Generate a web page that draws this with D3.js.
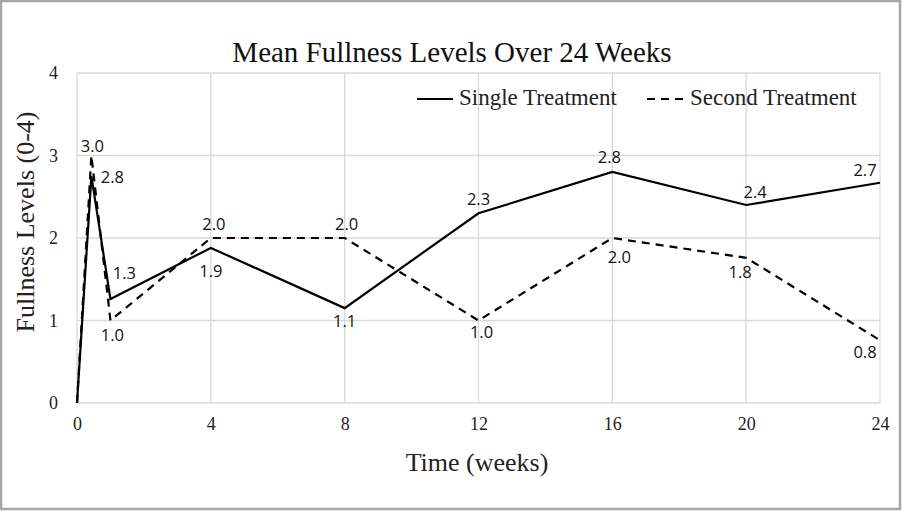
<!DOCTYPE html>
<html><head><meta charset="utf-8">
<script src="https://cdn.jsdelivr.net/npm/d3@7"></script>
<style>body{margin:0;background:#fff}svg{display:block}</style>
</head><body>
<svg id="c" width="902" height="511"></svg>
<script>
const weeks = [0, 0.43, 1, 4, 8, 12, 16, 20, 24];
const singleTreatment = [0, 2.75, 1.26, 1.88, 1.15, 2.3, 2.8, 2.4, 2.67];
const secondTreatment = [0, 3.0, 1.0, 2.0, 2.0, 1.0, 2.0, 1.76, 0.76];
const singleLabels = [null, "2.8", "1.3", "1.9", "1.1", "2.3", "2.8", "2.4", "2.7"];
const secondLabels = [null, "3.0", "1.0", "2.0", "2.0", "1.0", "2.0", "1.8", "0.8"];
const xTicks = [0, 4, 8, 12, 16, 20, 24];
const yTicks = [0, 1, 2, 3, 4];

const svg = d3.select("#c");
const W = 902, H = 511;
svg.append("rect").attr("x", 1).attr("y", 1).attr("width", W - 3).attr("height", H - 3)
  .attr("fill", "#fff").attr("stroke", "#a6a6a6").attr("stroke-width", 2.5);

const x = d3.scaleLinear().domain([0, 24]).range([77, 880]);
const y = d3.scaleLinear().domain([0, 4]).range([403, 73]);
const serif = "'Liberation Serif', 'Times New Roman', serif";
const sans = "'Open Sans', 'Noto Sans', sans-serif";

// gridlines
svg.append("g").selectAll("line").data(yTicks).join("line")
  .attr("x1", x(0)).attr("x2", x(24)).attr("y1", d => y(d)).attr("y2", d => y(d))
  .attr("stroke", "#d9d9d9").attr("stroke-width", 1.3);
svg.append("g").selectAll("line").data(xTicks).join("line")
  .attr("y1", y(0)).attr("y2", y(4)).attr("x1", d => x(d)).attr("x2", d => x(d))
  .attr("stroke", "#d9d9d9").attr("stroke-width", 1.3);

// axes
const xAxis = svg.append("g").attr("transform", `translate(0,${y(0)})`)
  .call(d3.axisBottom(x).tickValues(xTicks).tickFormat(d3.format("d")).tickSize(0).tickPadding(14));
xAxis.select(".domain").remove();
xAxis.selectAll("text").attr("font-family", serif).attr("font-size", 18).attr("fill", "#222");
const yAxis = svg.append("g").attr("transform", `translate(${x(0)},0)`)
  .call(d3.axisLeft(y).tickValues(yTicks).tickFormat(d3.format("d")).tickSize(0).tickPadding(19));
yAxis.select(".domain").remove();
yAxis.selectAll("text").attr("font-family", serif).attr("font-size", 18).attr("fill", "#222");

// title & axis titles
svg.append("text").attr("x", 452).attr("y", 62).attr("text-anchor", "middle")
  .attr("font-family", serif).attr("font-size", 29).attr("fill", "#111")
  .text("Mean Fullness Levels Over 24 Weeks");
svg.append("text").attr("x", 477).attr("y", 471).attr("text-anchor", "middle")
  .attr("font-family", serif).attr("font-size", 26).attr("fill", "#222").text("Time (weeks)");
svg.append("text").attr("transform", "translate(34,222) rotate(-90)").attr("text-anchor", "middle")
  .attr("font-family", serif).attr("font-size", 26).attr("fill", "#222").text("Fullness Levels (0-4)");

// lines
const line = d3.line().x(d => x(d[0])).y(d => y(d[1]));
const sData = weeks.map((w, i) => [w, singleTreatment[i]]);
const dData = weeks.map((w, i) => [w, secondTreatment[i]]);
svg.append("path").datum(dData).attr("d", line).attr("fill", "none")
  .attr("stroke", "#000").attr("stroke-width", 2.2).attr("stroke-dasharray", "8,6");
svg.append("path").datum(sData).attr("d", line).attr("fill", "none")
  .attr("stroke", "#000").attr("stroke-width", 2.2);

// data label placement (offsets from point: dx to label centre, dy to baseline)
const singleOff = [null, [21, 7], [14, -20], [0, 29], [0, 19], [0, -8], [-3, -9], [9, -7], [-15, -7]];
const secondOff = [null, [1, -4], [2, 20], [3, -8], [2, -8], [3, 17], [7, 25], [-6, 20], [-15, 18]];
function labels(data, labs, offs) {
  svg.append("g").selectAll("text")
    .data(data.map((d, i) => ({d, l: labs[i], o: offs[i]})).filter(o => o.l))
    .join("text")
    .attr("x", o => x(o.d[0]) + o.o[0])
    .attr("y", o => y(o.d[1]) + o.o[1])
    .attr("text-anchor", "middle")
    .attr("font-family", sans).attr("font-size", 16.5).attr("fill", "#111")
    .text(o => o.l);
}
labels(sData, singleLabels, singleOff);
labels(dData, secondLabels, secondOff);

// legend
const lg = svg.append("g");
lg.append("line").attr("x1", 417).attr("x2", 453).attr("y1", 99).attr("y2", 99)
  .attr("stroke", "#000").attr("stroke-width", 2.2);
lg.append("text").attr("x", 459).attr("y", 105).attr("font-family", serif).attr("font-size", 23)
  .attr("fill", "#222").text("Single Treatment");
lg.append("line").attr("x1", 647).attr("x2", 688).attr("y1", 99).attr("y2", 99)
  .attr("stroke", "#000").attr("stroke-width", 2.2).attr("stroke-dasharray", "8,6");
lg.append("text").attr("x", 690).attr("y", 105).attr("font-family", serif).attr("font-size", 23)
  .attr("fill", "#222").text("Second Treatment");
</script>
</body></html>
